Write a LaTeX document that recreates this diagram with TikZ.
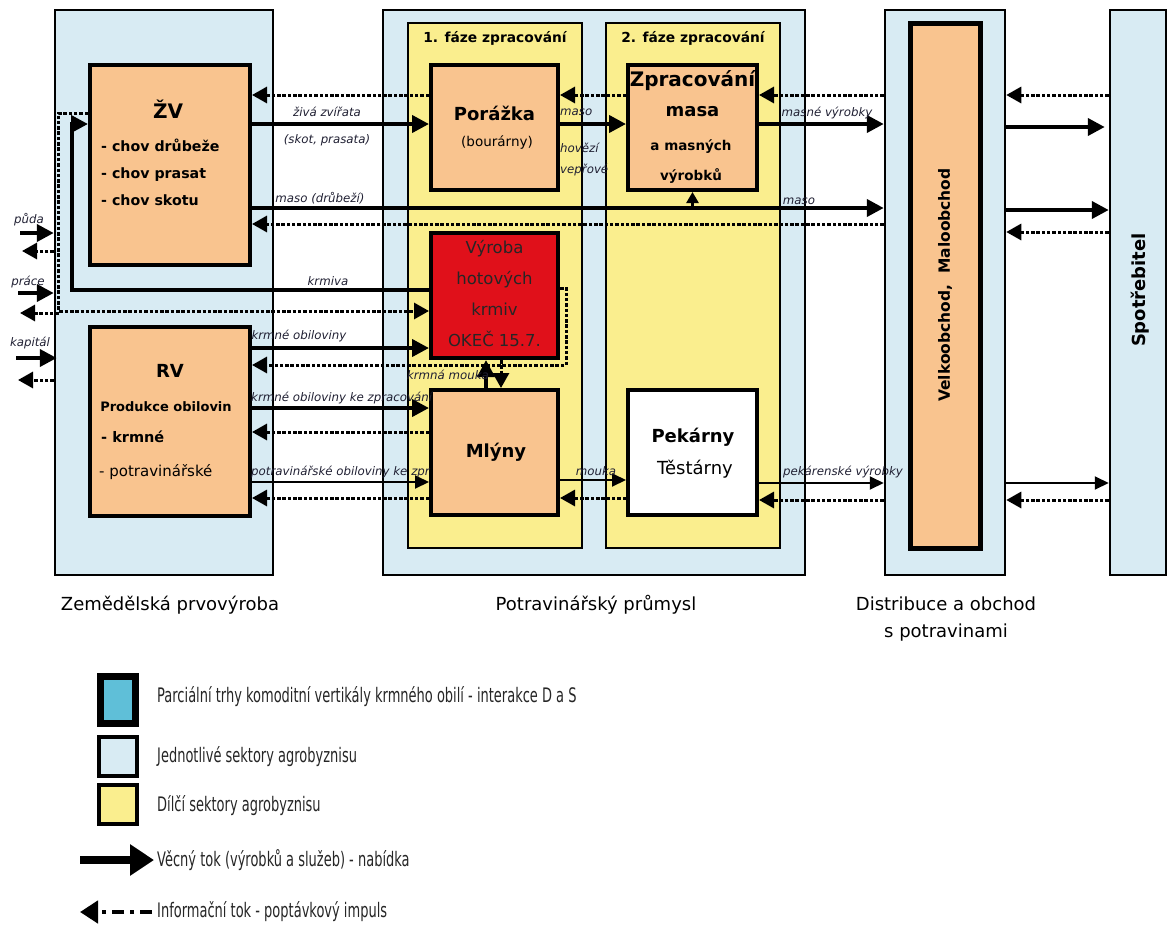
\documentclass[tikz,border=0pt]{standalone}
\usepackage{fontspec}
\setmainfont{DejaVu Sans}
\newfontfamily\legfont[FakeStretch=0.65]{DejaVu Sans}
\usetikzlibrary{arrows.meta,positioning}
\definecolor{sektor}{HTML}{D8EBF3}
\definecolor{dilci}{HTML}{FAEE8E}
\definecolor{oranz}{HTML}{F9C48F}
\definecolor{cervena}{HTML}{E0101A}
\definecolor{trh}{HTML}{5FBFD8}
\definecolor{popis}{HTML}{202033}
\newcommand{\fsz}[2]{\fontsize{#1}{#2}\selectfont}

\begin{document}
\begin{tikzpicture}[x=1pt, y=-1pt,
    sektorbox/.style={draw, line width=2.5pt, fill=sektor, inner sep=0pt, minimum height=565pt},
    fazebox/.style={draw, line width=2.5pt, fill=dilci, inner sep=0pt, minimum width=174pt, minimum height=525pt},
    blok/.style={draw, line width=4pt, fill=oranz, inner sep=0pt, minimum width=127pt, minimum height=125pt},
    nadpis/.style={font=\fsz{18}{22}\bfseries, inner sep=0pt},
    tucny/.style={font=\fsz{14.2}{27}\bfseries, inner sep=0pt, align=left},
    obyc/.style={font=\fsz{13.5}{16}, inner sep=0pt},
    popisek/.style={font=\fsz{11.8}{13}\itshape, text=popis, inner sep=1pt},
    goods/.style={line width=4pt, -{Triangle[length=17pt,width=17pt]}},
    goodsthin/.style={line width=2pt, -{Triangle[length=14pt,width=13pt]}},
    info/.style={line width=3pt, dash pattern=on 3.5pt off 1.8pt, -{Triangle[length=15pt,width=16pt]}},
    legtext/.style={font=\legfont\fsz{20}{22}, anchor=west, inner sep=0pt, text=black!85}
]
\useasboundingbox (0,0) rectangle (1168,929);

% --- Sektory agrobyznisu ---
\node[sektorbox, minimum width=218pt] (zemed) at (164,292.5) {};
\node[sektorbox, minimum width=422pt] (prumysl) at (594,292.5) {};
\node[sektorbox, minimum width=120pt] (distrib) at (945,292.5) {};
\node[sektorbox, minimum width=56pt] (spotreb) at (1138,292.5) {};

% --- Dilci sektory (faze zpracovani) ---
\node[fazebox] (faze1) at (495,285.5) {};
\node[fazebox] (faze2) at (693,285.5) {};
\node[font=\fsz{13.8}{15}\bfseries, inner sep=0pt] (faze1t) at (495,38) {1. fáze zpracování};
\node[font=\fsz{13.8}{15}\bfseries, inner sep=0pt] (faze2t) at (693,38) {2. fáze zpracování};

% --- Zemedelska prvovyroba ---
\node[blok, minimum width=160pt, minimum height=200pt] (zv) at (170,165) {};
\node[nadpis, font=\fsz{20}{24}\bfseries] (zvt) at (168,109) {ŽV};
\node[tucny, anchor=west] (zvlist) at (101,172) {- chov drůbeže\\- chov prasat\\- chov skotu};

\node[blok, minimum width=160pt, minimum height=189pt] (rv) at (170,421.5) {};
\node[nadpis] (rvt) at (170,371) {RV};
\node[font=\fsz{13}{16}\bfseries, inner sep=0pt] (rvprod) at (166,407) {Produkce obilovin};
\node[font=\fsz{14.5}{16}\bfseries, inner sep=0pt, anchor=west] (rvkrm) at (101,437) {- krmné};
\node[font=\fsz{15}{16}, inner sep=0pt, anchor=west] (rvpot) at (99,472) {- potravinářské};

% --- Potravinarsky prumysl ---
\node[blok] (porazka) at (494.5,127.5) {};
\node[nadpis] (porazkat) at (494.5,113) {Porážka};
\node[obyc] (bourarny) at (497,143) {(bourárny)};

\node[blok, minimum width=129pt] (zprac) at (692.5,127.5) {};
\node[nadpis, font=\fsz{20}{22}\bfseries] (zpract) at (692.5,81) {Zpracování};
\node[nadpis] (masat) at (692.5,112) {masa};
\node[font=\fsz{13.5}{30}\bfseries, inner sep=0pt, align=center] (masnych) at (691,162) {a masných\\výrobků};

\node[blok, fill=cervena] (vyroba) at (494.5,295.5) {};
\node[font=\fsz{16.5}{31}, inner sep=0pt, align=center, text=black!85] (vyrobat) at (494.5,294) {Výroba\\hotových\\krmiv\\OKEČ 15.7.};

\node[blok] (mlyny) at (494.5,452.5) {};
\node[nadpis] (mlynyt) at (496,452) {Mlýny};

\node[blok, fill=white, minimum width=129pt] (pekarny) at (692.5,452.5) {};
\node[nadpis] (pekarnyt) at (693,437) {Pekárny};
\node[font=\fsz{18}{20}, inner sep=0pt] (testarny) at (695,469) {Těstárny};

% --- Distribuce a spotrebitel ---
\node[draw, line width=5pt, fill=oranz, minimum width=70pt, minimum height=525pt, inner sep=0pt] (obchod) at (945,285.5) {};
\node[font=\fsz{15.5}{17}\bfseries, rotate=90, inner sep=0pt] (obchodt) at (945,285) {Velkoobchod,\ \ Maloobchod};
\node[font=\fsz{18}{20}\bfseries, rotate=90, inner sep=0pt] (spotrebt) at (1140,290) {Spotřebitel};

% --- Popisy sektoru ---
\node[font=\fsz{18}{20}, inner sep=0pt] (zemedt) at (170,605) {Zemědělská prvovýroba};
\node[font=\fsz{18}{20}, inner sep=0pt] (prumyslt) at (596,605) {Potravinářský průmysl};
\node[font=\fsz{18}{27}, inner sep=0pt, align=center] (distribt) at (946,619) {Distribuce a obchod\\s potravinami};

% --- Vecne toky: maso ---
\draw[goods] (zv.east |- 0,124) -- (porazka.west |- 0,124);
\draw[goods] (porazka.east |- 0,124) -- (zprac.west |- 0,124);
\draw[goods] (zprac.east |- 0,124) -- (distrib.west |- 0,124);
\draw[goods] (distrib.east |- 0,127) -- ([xshift=-4pt]spotreb.west |- 0,127);
\draw[goods] (zv.east |- 0,208) -- (distrib.west |- 0,208);
\draw[line width=2.5pt, -{Triangle[length=11pt,width=12pt]}] (zprac.south |- 0,208) -- (zprac.south);
\draw[goods] (distrib.east |- 0,210) -- (spotreb.west |- 0,210);

% --- Vecne toky: krmiva a obiloviny ---
\draw[goods] (vyroba.west |- 0,290) -- ([xshift=18pt]zemed.west |- 0,290)
    -- ([xshift=18pt]zemed.west |- 0,124) -- (zv.west |- 0,124);
\draw[goods] (rv.east |- 0,348) -- (vyroba.west |- 0,348);
\draw[goods] (mlyny.north -| 486,0) -- (vyroba.south -| 486,0);
\draw[goods] (rv.east |- 0,408) -- (mlyny.west |- 0,408);
\draw[goodsthin] (rv.east |- 0,482) -- (mlyny.west |- 0,482);
\draw[goodsthin] (mlyny.east |- 0,480) -- (pekarny.west |- 0,480);
\draw[goodsthin] (pekarny.east |- 0,483) -- (distrib.west |- 0,483);
\draw[goodsthin] (distrib.east |- 0,483) -- (spotreb.west |- 0,483);

% --- Informacni toky ---
\draw[info] (porazka.west |- 0,95) -- (zv.east |- 0,95);
\draw[info] (zprac.west |- 0,95) -- (porazka.east |- 0,95);
\draw[info] (distrib.west |- 0,95) -- (zprac.east |- 0,95);
\draw[info] (spotreb.west |- 0,95) -- (distrib.east |- 0,95);
\draw[info] (distrib.west |- 0,224) -- (zv.east |- 0,224);
\draw[info] (spotreb.west |- 0,232) -- (distrib.east |- 0,232);
\draw[info] (zv.west |- 0,113) -- ([xshift=5pt]zemed.west |- 0,113)
    -- ([xshift=5pt]zemed.west |- 0,311) -- (vyroba.west |- 0,311);
\draw[info] (vyroba.east |- 0,288) -- ([xshift=6pt]vyroba.east |- 0,288)
    -- ([xshift=6pt]vyroba.east |- 0,365) -- (rv.east |- 0,365);
\draw[info] (vyroba.south -| 501,0) -- (mlyny.north -| 501,0);
\draw[info] (mlyny.west |- 0,432) -- (rv.east |- 0,432);
\draw[info] (mlyny.west |- 0,498) -- (rv.east |- 0,498);
\draw[info] (pekarny.west |- 0,498) -- (mlyny.east |- 0,498);
\draw[info] (distrib.west |- 0,500) -- (pekarny.east |- 0,500);
\draw[info] (spotreb.west |- 0,500) -- (distrib.east |- 0,500);

% --- Vstupy: puda, prace, kapital ---
\coordinate (pudain) at (20,233);
\coordinate (pudaout) at (22,251);
\coordinate (pracein) at (18,293);
\coordinate (praceout) at (20,313);
\coordinate (kapin) at (16,358);
\coordinate (kapout) at (18,380);
\draw[goods] (pudain) -- (zemed.west |- pudain);
\draw[info] (zemed.west |- pudaout) -- (pudaout);
\draw[goods] (pracein) -- (zemed.west |- pracein);
\draw[info] ([xshift=5pt]zemed.west |- praceout) -- (praceout);
\draw[goods] (kapin) -- ([xshift=3pt]zemed.west |- kapin);
\draw[info] (zemed.west |- kapout) -- (kapout);
\node[popisek] (pudat) at (29,220) {půda};
\node[popisek] (pracet) at (28,282) {práce};
\node[popisek] (kapt) at (30,343) {kapitál};

% --- Popisky toku ---
\node[popisek] (zvirata) at (327,112) {živá zvířata};
\node[popisek] (skot) at (327,140) {(skot, prasata)};
\node[popisek, anchor=west] (maso1) at (559,112) {maso};
\node[popisek, anchor=west] (hovezi) at (559,148) {hovězí};
\node[popisek, anchor=west] (veprove) at (559,170) {vepřové};
\node[popisek] (masne) at (827,113) {masné výrobky};
\node[popisek] (drubezi) at (320,198) {maso (drůbeží)};
\node[popisek] (maso2) at (799,201) {maso};
\node[popisek] (krmiva) at (328,281) {krmiva};
\node[popisek] (krmobil) at (299,336) {krmné obiloviny};
\node[popisek] (krmmouka) at (448,375) {krmná mouka};
\node[popisek, anchor=west] (krmzprac) at (250,398) {krmné obiloviny ke zpracování};
\node[popisek, anchor=west] (potzprac) at (250,472) {potravinářské obiloviny ke zpr};
\node[popisek] (mouka) at (596,471) {mouka};
\node[popisek] (pekvyr) at (843,472) {pekárenské výrobky};

% --- Legenda ---
\node[draw, line width=7pt, fill=trh, minimum width=35pt, minimum height=47pt, inner sep=0pt] (legtrh) at (118,700) {};
\node[draw, line width=4pt, fill=sektor, minimum width=38pt, minimum height=39pt, inner sep=0pt] (legsektor) at (118,756.5) {};
\node[draw, line width=4pt, fill=dilci, minimum width=38pt, minimum height=39pt, inner sep=0pt] (legdilci) at (118,804.5) {};
\node[legtext] (legtrht) at (157,697) {Parciální trhy komoditní vertikály krmného obilí - interakce D a S};
\node[legtext] (legsektort) at (157,757) {Jednotlivé sektory agrobyznisu};
\node[legtext] (legdilcit) at (157,806) {Dílčí sektory agrobyznisu};
\coordinate (legvecA) at (80,860);
\coordinate (legvecB) at (154,860);
\coordinate (leginfA) at (152,912);
\coordinate (leginfB) at (80,912);
\draw[line width=8pt, -{Triangle[length=24pt,width=30pt]}] (legvecA) -- (legvecB);
\draw[line width=4.5pt, dash pattern=on 12pt off 6pt on 4pt off 6pt, -{Triangle[length=18pt,width=22pt]}] (leginfA) -- (leginfB);
\node[legtext] (legvect) at (157,860) {Věcný tok (výrobků a služeb) - nabídka};
\node[legtext] (leginft) at (157,912) {Informační tok - poptávkový impuls};

\end{tikzpicture}
\end{document}
